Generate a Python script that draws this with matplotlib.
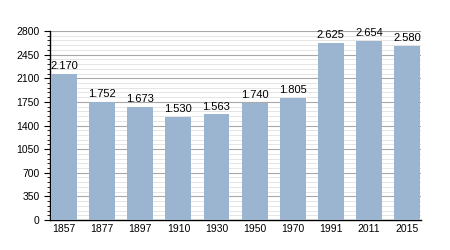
import matplotlib
matplotlib.use('Agg')
import matplotlib.pyplot as plt
from matplotlib.ticker import MultipleLocator

years = ['1857', '1877', '1897', '1910', '1930', '1950', '1970', '1991', '2011', '2015']
population = [2170, 1752, 1673, 1530, 1563, 1740, 1805, 2625, 2654, 2580]
labels = ['2.170', '1.752', '1.673', '1.530', '1.563', '1.740', '1.805', '2.625', '2.654', '2.580']

plt.rcParams['font.family'] = ['Liberation Sans', 'DejaVu Sans']

fig = plt.figure(figsize=(4.5, 2.5), dpi=100)
ax = fig.add_axes([0.111, 0.12, 0.825, 0.756])

x = range(len(years))
ax.bar(x, population, width=0.68, color='#9bb4cf', zorder=3)
for xi, v, lab in zip(x, population, labels):
    ax.text(xi, v + 40, lab, ha='center', va='bottom', fontsize=8, zorder=4)

ax.set_xlim(-0.37, len(years) - 0.63)
ax.set_ylim(0, 2800)
ax.set_xticks(list(x))
ax.set_xticklabels(years)
ax.yaxis.set_major_locator(MultipleLocator(350))
ax.yaxis.set_minor_locator(MultipleLocator(70))
ax.grid(True, which='major', axis='y', color='#a8a8a8', linewidth=0.8, zorder=0)
ax.grid(True, which='minor', axis='y', color='#e0e0e0', linewidth=0.6, zorder=0)
ax.tick_params(axis='x', length=0, labelsize=7.5, pad=3)
ax.tick_params(axis='y', which='major', length=4, width=0.8, labelsize=7.5)
ax.tick_params(axis='y', which='minor', length=2, width=0.6)
for s in ['top', 'right']:
    ax.spines[s].set_visible(False)
ax.spines['left'].set_linewidth(1)
ax.spines['bottom'].set_linewidth(1)

fig.savefig('out.png', dpi=100)
